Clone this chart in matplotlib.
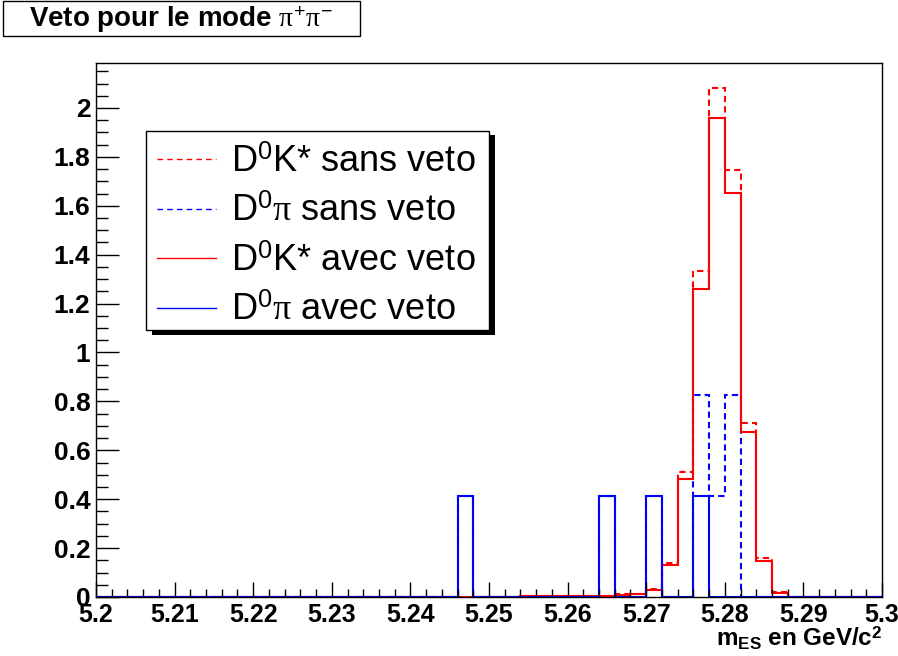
import numpy as np
import matplotlib
matplotlib.use("Agg")
import matplotlib.pyplot as plt
from matplotlib.patches import Rectangle
from matplotlib.ticker import MultipleLocator
from matplotlib.lines import Line2D

plt.rcParams['font.family'] = ['Liberation Sans', 'DejaVu Sans']
plt.rcParams['mathtext.fontset'] = 'custom'
plt.rcParams['mathtext.rm'] = 'Liberation Sans'
plt.rcParams['mathtext.it'] = 'Liberation Serif'
plt.rcParams['mathtext.bf'] = 'Liberation Sans:bold'

# binning : 50 bins de 2 MeV entre 5.2 et 5.3
edges = np.linspace(5.2, 5.3, 51)

# D0K* : contenu des bins non vides (indice du bin, valeur)
k_bins = [23, 27, 28, 29, 30, 31, 32, 33, 34, 35, 36, 37, 38, 39, 40, 41, 42, 43]
k_sans_veto = [0.002, 0.005, 0.005, 0.005, 0.005, 0.005, 0.006, 0.011, 0.013, 0.033,
               0.14, 0.51, 1.335, 2.08, 1.745, 0.71, 0.158, 0.02]
k_avec_veto = [0.002, 0.004, 0.004, 0.004, 0.004, 0.004, 0.005, 0.010, 0.012, 0.028,
               0.13, 0.483, 1.26, 1.958, 1.654, 0.674, 0.148, 0.018]

# D0pi
pi_bins_sans = [23, 32, 35, 38, 39, 40]
pi_sans_veto = [0.414, 0.414, 0.414, 0.828, 0.414, 0.828]
pi_bins_avec = [23, 32, 35, 38]
pi_avec_veto = [0.414, 0.414, 0.414, 0.414]


def fill(bins, vals):
    h = np.zeros(len(edges) - 1)
    h[bins] = vals
    return h


h_k_sans = fill(k_bins, k_sans_veto)
h_k_avec = fill(k_bins, k_avec_veto)
h_pi_sans = fill(pi_bins_sans, pi_sans_veto)
h_pi_avec = fill(pi_bins_avec, pi_avec_veto)

W, H = 898, 656
fig = plt.figure(figsize=(W / 100, H / 100), dpi=100)
ax = fig.add_axes([96 / W, 1 - 597 / H, (882 - 96) / W, (597 - 63) / H])

lw = 1.5
dash = (3, 2)
ax.stairs(h_k_sans, edges, color='red', lw=lw, linestyle=(0, dash))
ax.stairs(h_pi_sans, edges, color='blue', lw=lw, linestyle=(0, dash))
ax.stairs(h_k_avec, edges, color='red', lw=lw)
ax.stairs(h_pi_avec, edges, color='blue', lw=lw)

ax.set_xlim(5.2, 5.3)
ax.set_ylim(0, 1.05 * max(k_sans_veto))

ax.xaxis.set_major_locator(MultipleLocator(0.01))
ax.xaxis.set_minor_locator(MultipleLocator(0.002))
ax.yaxis.set_major_locator(MultipleLocator(0.2))
ax.yaxis.set_minor_locator(MultipleLocator(0.05))
ax.xaxis.set_major_formatter(lambda v, p: f"{v:.2f}".rstrip('0') if abs(v - round(v, 1)) > 1e-9 else f"{v:.1f}")
ax.yaxis.set_major_formatter(lambda v, p: "0" if abs(v) < 1e-9 else (f"{v:.0f}" if abs(v - round(v)) < 1e-9 else f"{v:.1f}"))

ax.tick_params(axis='both', which='both', direction='in', top=False, right=False,
               width=1, colors='black')
ax.tick_params(axis='x', which='major', length=11, pad=4, labelsize=18)
ax.tick_params(axis='x', which='minor', length=5.5)
ax.tick_params(axis='y', which='major', length=16.5, pad=4, labelsize=19)
ax.tick_params(axis='y', which='minor', length=8.5)
for lab in ax.get_xticklabels() + ax.get_yticklabels():
    lab.set_fontweight('bold')
# le "0" de l'axe y remonte un peu pour ne pas toucher le 5.2
ax.get_yticklabels()[0].set_verticalalignment('bottom')
for sp in ax.spines.values():
    sp.set_linewidth(1)

fig.text(882 / W, 1 - 647 / H, r'm$_{\mathbf{ES}}$ en GeV/c$^{\mathbf{2}}$',
         ha='right', va='baseline', fontsize=17.5, fontweight='bold')

# titre encadre
fig.patches.append(Rectangle((3 / W, 1 - 36 / H), 357 / W, 35 / H,
                             transform=fig.transFigure, fill=True, facecolor='white',
                             edgecolor='black', lw=1))
fig.text(181 / W, 1 - 20 / H, r'Veto pour le mode $\pi^{+}\pi^{-}$',
         ha='center', va='center', fontsize=20, fontweight='bold')

# legende avec ombre
fig.patches.append(Rectangle((152 / W, 1 - 335 / H), 343 / W, 200 / H,
                             transform=fig.transFigure, facecolor='black',
                             edgecolor='black', lw=0, zorder=3))
fig.patches.append(Rectangle((146 / W, 1 - 330 / H), 343 / W, 199 / H,
                             transform=fig.transFigure, facecolor='white',
                             edgecolor='black', lw=1, zorder=3))
handles = [Line2D([], [], color='red', lw=1, linestyle=(0, (4, 3))),
           Line2D([], [], color='blue', lw=1, linestyle=(0, (4, 3))),
           Line2D([], [], color='red', lw=1),
           Line2D([], [], color='blue', lw=1)]
labels = [r'D$^{0}$K* sans veto', r'D$^{0}\pi$ sans veto',
          r'D$^{0}$K* avec veto', r'D$^{0}\pi$ avec veto']
leg = fig.legend(handles, labels, loc='upper left', bbox_to_anchor=(157 / W, 1 - 145 / H),
                 frameon=False, fontsize=26, handlelength=1.64, handletextpad=0.42,
                 labelspacing=0.40, borderpad=0, borderaxespad=0)
leg.set_zorder(4)

fig.savefig("out.png", dpi=100)
